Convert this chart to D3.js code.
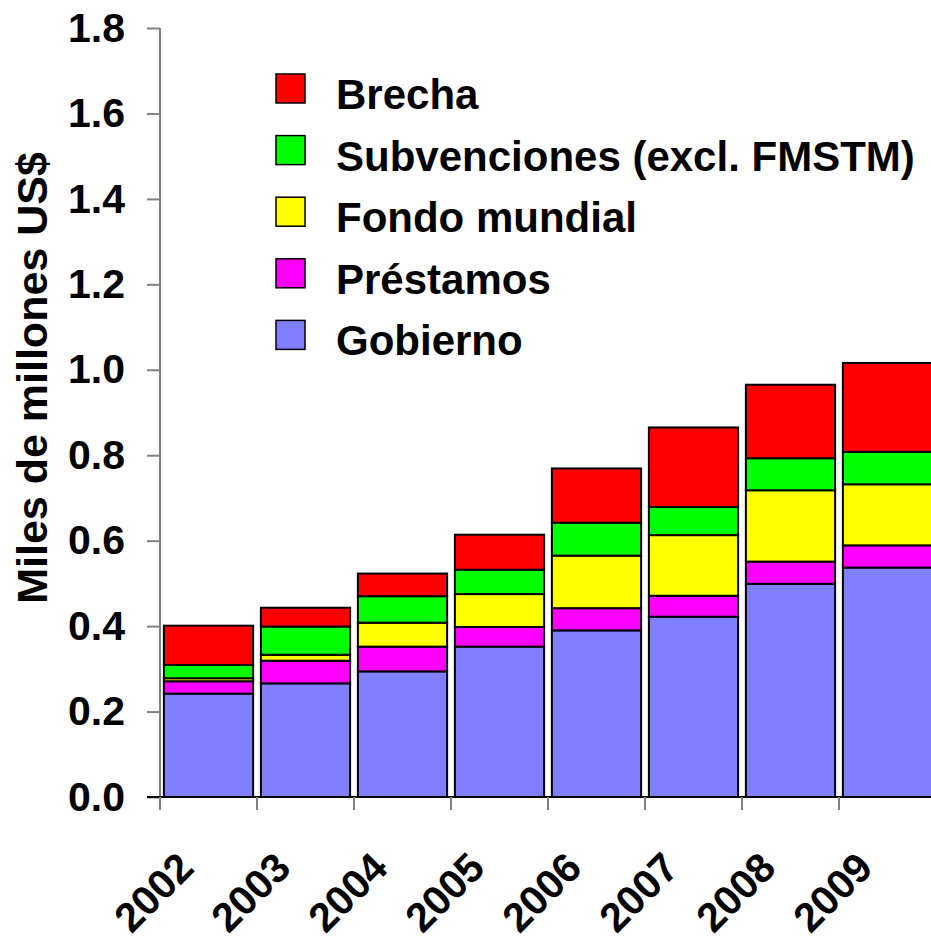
<!DOCTYPE html>
<html>
<head>
<meta charset="utf-8">
<script src="https://cdn.jsdelivr.net/npm/d3@7"></script>
<style>
    body { margin: 0; background: #fff; }
    text { font-family: "Liberation Sans", Arial, sans-serif; font-weight: bold; }
</style>
</head>
<body>
<svg id="chart" width="931" height="940"></svg>
<script>
// values (miles de millones US$)
var years = ['2002', '2003', '2004', '2005', '2006', '2007', '2008', '2009'];
var gobierno     = [0.242, 0.266, 0.294, 0.352, 0.390, 0.422, 0.499, 0.537];
var prestamos    = [0.029, 0.053, 0.058, 0.046, 0.052, 0.049, 0.052, 0.052];
var fondoMundial = [0.007, 0.014, 0.056, 0.077, 0.123, 0.142, 0.167, 0.143];
var subvenciones = [0.031, 0.066, 0.062, 0.057, 0.077, 0.066, 0.075, 0.076];
var brecha       = [0.092, 0.044, 0.053, 0.082, 0.127, 0.186, 0.172, 0.208];
var yTicks = [0, 0.2, 0.4, 0.6, 0.8, 1.0, 1.2, 1.4, 1.6, 1.8];

var series = [
    {key: 'gobierno', name: 'Gobierno', values: gobierno, color: '#8080ff'},
    {key: 'prestamos', name: 'Préstamos', values: prestamos, color: '#ff00ff'},
    {key: 'fondo', name: 'Fondo mundial', values: fondoMundial, color: '#ffff00'},
    {key: 'subv', name: 'Subvenciones (excl. FMSTM)', values: subvenciones, color: '#00ff00'},
    {key: 'brecha', name: 'Brecha', values: brecha, color: '#ff0000'}
];

class StackChart {
    constructor(elemT){
        this.elem = elemT;

        this.table = years.map((y, i) => {
            var row = {year: y};
            series.forEach(s => { row[s.key] = s.values[i]; });
            return row;
        });

        this.x = d3.scaleBand()
        .domain(years)
        .range([160, 160 + 97 * years.length])
        .paddingInner(0.08)
        .paddingOuter(0.04);

        this.y = d3.scaleLinear()
        .domain([0, 1.8])
        .range([797, 28]);
    }

    dibujar() {
        this.dibujarBarras();
        this.dibujarEjes();
        this.dibujarLeyenda();
    }

    dibujarBarras() {
        var stack = d3.stack().keys(series.map(s => s.key));
        var layers = stack(this.table);

        this.elem.append('g').attr('class', 'layers')
        .selectAll('g')
        .data(layers)
        .enter()
        .append('g')
        .attr('fill', (d, i) => series[i].color)
        .selectAll('rect')
        .data(d => d)
        .enter()
        .append('rect')
        .attr('x', d => this.x(d.data.year))
        .attr('width', this.x.bandwidth())
        .attr('y', d => this.y(d[1]))
        .attr('height', d => this.y(d[0]) - this.y(d[1]))
        .attr('stroke', '#000')
        .attr('stroke-width', 2);
    }

    dibujarEjes() {
        var yAxis = d3.axisLeft(this.y)
        .tickValues(yTicks)
        .tickFormat(d3.format('.1f'))
        .tickSize(13)
        .tickPadding(22);

        var gy = this.elem.append('g')
        .attr('transform', 'translate(160,0)')
        .call(yAxis);
        gy.select('.domain').attr('stroke', '#808080').attr('stroke-width', 2)
        .attr('d', 'M0,' + this.y(1.8) + 'V' + this.y(0));
        gy.selectAll('.tick line').attr('stroke', '#808080').attr('stroke-width', 2);
        gy.selectAll('.tick text')
        .attr('font-size', 41)
        .attr('fill', '#000')
        .attr('font-family', '"Liberation Sans", Arial, sans-serif');

        // category boundaries get the ticks, labels sit under each bar
        var step = this.x.step();
        var bounds = years.map((y, i) => 160 + i * step);

        this.elem.append('line')
        .attr('x1', 147).attr('x2', 931)
        .attr('y1', this.y(0)).attr('y2', this.y(0))
        .attr('stroke', '#000').attr('stroke-width', 2);

        this.elem.append('g').selectAll('line')
        .data(bounds)
        .enter()
        .append('line')
        .attr('x1', d => d).attr('x2', d => d)
        .attr('y1', this.y(0)).attr('y2', this.y(0) + 13)
        .attr('stroke', '#808080').attr('stroke-width', 2);

        this.elem.append('g').selectAll('text')
        .data(years)
        .enter()
        .append('text')
        .attr('text-anchor', 'end')
        .attr('font-size', 41)
        .attr('transform', d => {
            var cx = this.x(d) + this.x.bandwidth() / 2 - 12.5;
            return 'translate(' + cx + ',870) rotate(-45)';
        })
        .text(d => d);

        this.elem.append('text')
        .attr('text-anchor', 'middle')
        .attr('font-size', 43)
        .attr('transform', 'translate(47,378) rotate(-90)')
        .text('Miles de millones US$');
    }

    dibujarLeyenda() {
        var legend = this.elem.append('g').attr('class', 'legend')
        .attr('transform', 'translate(276,74)');

        var items = legend.selectAll('.item')
        .data(series.slice().reverse())
        .enter()
        .append('g')
        .attr('class', 'item')
        .attr('transform', (d, i) => 'translate(0,' + (i * 61.6) + ')');

        items.append('rect')
        .attr('width', 29).attr('height', 29)
        .attr('fill', d => d.color)
        .attr('stroke', '#000')
        .attr('stroke-width', 1.5);

        items.append('text')
        .attr('x', 60)
        .attr('y', 35)
        .attr('font-size', 42)
        .text(d => d.name);
    }
}

var chart = new StackChart(d3.select('#chart'));
chart.dibujar();
</script>
</body>
</html>
